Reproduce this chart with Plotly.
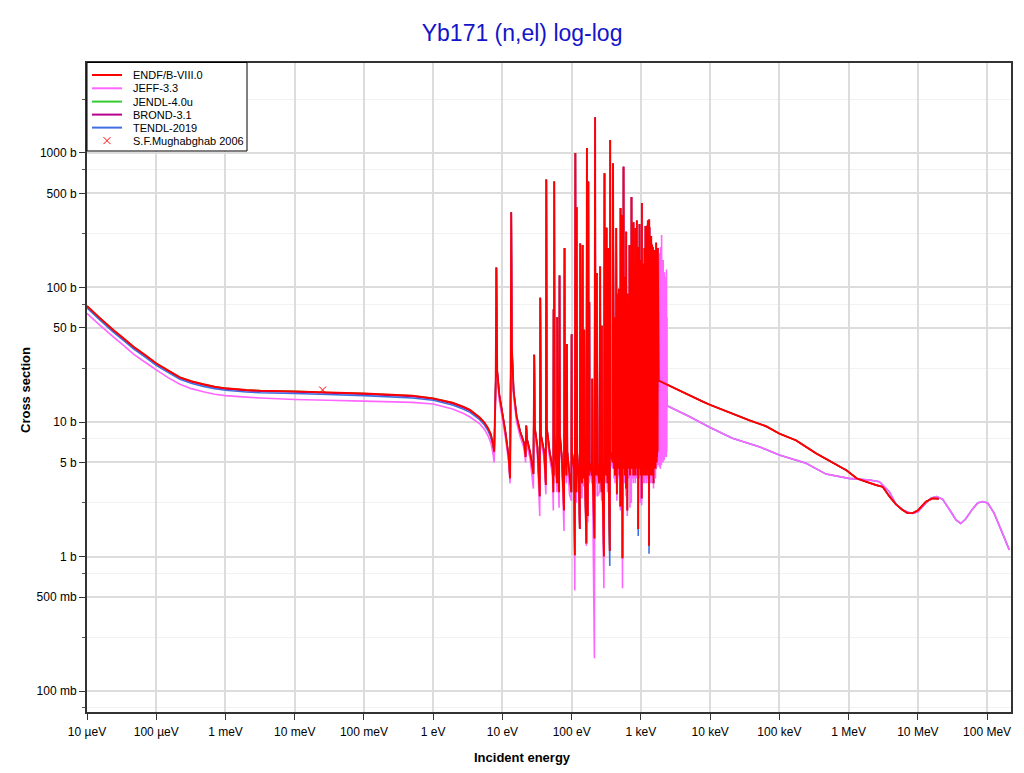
import plotly.graph_objects as go

# ---------------- data ----------------
# smooth low-energy part (eV, barns)
low_e = [1e-5, 1.5e-5, 2.4e-5, 3.4e-5, 4.7e-5, 7e-5, 1e-4, 1.5e-4, 2.2e-4, 3.2e-4,
         4.8e-4, 7e-4, 1e-3, 2e-3, 3.2e-3, 1e-2, 3e-2, 0.1, 0.5, 1.0,
         1.9, 2.7, 3.4, 4.7, 5.5, 6.2, 6.8, 7.3, 7.6]
endf_low = [72.8, 60, 48.3, 41.7, 36.3, 31.3, 27.3, 24.1, 21.5, 20.1,
            19.1, 18.3, 17.8, 17.3, 17.1, 16.9, 16.6, 16.3, 15.7, 15.0,
            13.9, 13.0, 12.3, 10.8, 9.9, 9.0, 8.1, 6.9, 6.0]
jeff_low = [64.3, 53, 43, 37, 32, 27.7, 24.4, 21.3, 19.1, 17.7,
            16.8, 16.1, 15.7, 15.3, 15.1, 14.7, 14.5, 14.3, 14.0, 13.6,
            12.5, 11.6, 10.9, 9.7, 8.8, 7.9, 7.0, 5.85, 5.0]
tendl_low = [70.5, 58, 46.6, 40.2, 35.0, 30.2, 26.4, 23.3, 20.8, 19.4,
             18.4, 17.7, 17.2, 16.7, 16.5, 16.3, 16.0, 15.7, 15.1, 14.5,
             13.4, 12.5, 11.8, 10.4, 9.5, 8.6, 7.7, 6.5, 5.6]
brond_low = [72.0, 59.4, 47.8, 41.3, 35.9, 31.0, 27.0, 23.9, 21.3, 19.9,
             18.9, 18.1, 17.6, 17.1, 16.9, 16.7, 16.4, 16.1, 15.5, 14.8,
             13.7, 12.8, 12.1, 10.6, 9.7, 8.8, 7.9, 6.7, 5.8]

# resolved resonances, sparse part (8 eV - 364 eV): vertices
sp_e = [8.0, 8.17, 8.4, 9.0, 10.0, 11.0, 12.3, 12.9, 13.2, 13.4,
        13.7, 14.5, 16, 18, 20.5, 21.6, 22.1, 22.6, 25, 28.0,
        28.8, 29.4, 32, 34.6, 35.2, 36.0, 40, 42.4, 43.0, 43.8,
        48, 53, 54.3, 54.8, 55.3, 56.0, 56.7, 60, 61.3, 61.8,
        62.5, 65.8, 66.8, 67.6, 72, 77.5, 78.9, 80, 84, 85.3,
        86.5, 93, 99.0, 99.8, 101, 108, 111, 113, 115, 117,
        118, 120, 127, 131, 133, 135, 141, 144, 146, 150,
        152, 154, 163, 166, 168, 171, 174, 176, 178, 180,
        182, 196, 198, 200, 213, 218, 221, 228, 231, 234,
        250, 258, 261, 271, 273, 275, 292, 298, 301, 312,
        319, 322, 330, 337, 340, 355, 360, 364]
sp_endf = [20, 141, 24, 16, 11.5, 8.5, 5.5, 3.8, 25, 363,
           35, 17, 11, 8.5, 7.0, 5.5, 9.4, 7.5, 6.0, 4.1,
           31.6, 9.0, 6.5, 2.8, 84, 8.0, 6.0, 3.4, 634, 9.0,
           6.0, 4.5, 3.0, 69, 4.0, 614, 8.0, 4.5, 3.5, 60,
           7.0, 3.0, 123, 8.0, 5.5, 2.2, 197, 7.0, 4.0, 38,
           6.0, 4.0, 3.0, 45, 6.0, 4.5, 1.02, 1000, 6.0, 3.0,
           395, 6.0, 3.5, 1.6, 212, 6.0, 3.5, 207, 5.0, 3.8,
           48.6, 5.0, 1.25, 1089, 5.0, 2.0, 614, 5.0, 4.0, 78,
           5.0, 4.0, 21, 4.5, 1.36, 1842, 6.0, 4.0, 128, 5.0,
           3.5, 143, 5.0, 3.0, 52, 5.0, 1.0, 706, 6.0, 4.0,
           278, 5.0, 3.5, 197, 5.0, 1.1, 1250, 6.0]
sp_jeff = [18, 135, 22, 14.5, 10.5, 7.8, 5.0, 3.5, 22, 350,
           32, 15.5, 10, 7.8, 6.4, 5.0, 9.0, 6.8, 5.4, 3.2,
           30, 8.2, 5.8, 2.0, 80, 7.2, 5.4, 2.9, 620, 8.0,
           5.4, 4.0, 2.2, 65, 3.5, 600, 7.2, 4.0, 3.0, 57,
           6.3, 2.3, 118, 7.0, 5.0, 1.55, 190, 6.3, 3.5, 36,
           5.4, 2.9, 2.6, 43, 5.4, 4.0, 0.56, 980, 5.4, 2.5,
           380, 5.4, 3.0, 1.6, 205, 5.4, 2.7, 200, 4.5, 3.3,
           46, 4.5, 1.2, 1050, 4.5, 1.8, 600, 4.5, 3.5, 75,
           4.5, 3.5, 20, 4.0, 0.175, 1800, 5.4, 3.5, 122, 2.8,
           3.0, 138, 4.5, 2.6, 50, 4.5, 0.58, 690, 5.4, 3.5,
           270, 4.5, 3.0, 190, 4.5, 2.4, 1200, 5.4]

# dense part (395 eV - 1.75 keV): resonance energies, peak heights, minima
dn_e = [395, 412, 425, 440, 452, 465, 481, 495, 508, 520,
        531, 545, 561, 575, 590, 600, 613, 625, 640, 655,
        668, 684, 700, 715, 731, 745, 760, 781, 795, 810,
        835, 850, 873, 890, 905, 920, 938, 955, 975, 995,
        1015, 1032, 1050, 1070, 1090, 1110, 1128, 1145, 1164, 1185,
        1205, 1219, 1240, 1258, 1280, 1300, 1318, 1331, 1350, 1375,
        1395, 1409, 1430, 1452, 1470, 1489, 1510, 1530, 1550, 1570,
        1590, 1610, 1635, 1660, 1685, 1700, 1721, 1740, 1754]
dn_peak = [840, 60, 30, 277, 90, 40, 98, 50, 390, 70,
           346, 45, 790, 80, 60, 120, 260, 50, 90, 70,
           70, 207, 60, 90, 470, 70, 120, 306, 80, 150,
           277, 90, 315, 100, 200, 80, 180, 297, 100, 160,
           90, 425, 120, 90, 150, 100, 197, 120, 287, 90,
           140, 288, 110, 315, 100, 150, 320, 280, 120, 90,
           150, 241, 120, 208, 100, 200, 100, 130, 90, 190,
           100, 182, 120, 215, 90, 140, 143, 100, 197]
dn_dip_endf = [5.0, 4.5, 4.0, 4.5, 2.9, 4.5, 5.0, 4.0, 2.35, 4.5,
               5.0, 0.97, 4.5, 5.0, 4.0, 5.0, 3.2, 4.5, 2.2, 4.5,
               5.0, 4.5, 4.0, 5.0, 4.5, 4.5, 5.0, 4.0, 4.5, 5.0,
               4.0, 4.5, 5.0, 4.5, 4.0, 1.6, 4.5, 4.5, 5.0, 4.0,
               4.5, 2.7, 5.0, 4.5, 4.0, 5.0, 4.5, 4.0, 4.5, 5.0,
               4.5, 4.0, 4.5, 5.0, 4.5, 4.0, 1.2, 4.5, 5.0, 4.5,
               4.0, 4.5, 5.0, 4.5, 4.0, 4.5, 5.0, 3.5, 4.5, 5.0,
               4.5, 5.0, 4.5, 5.0, 5.5, 5.0, 5.5, 6.0, 6.0]
dn_dip_jeff = [4.5, 3.8, 3.5, 3.8, 2.6, 3.8, 4.2, 3.5, 2.2, 3.8,
               4.2, 0.58, 3.8, 4.2, 3.5, 4.2, 2.8, 3.8, 2.0, 3.8,
               4.2, 3.8, 2.3, 4.2, 2.5, 3.8, 4.2, 3.5, 3.8, 4.2,
               3.5, 3.8, 4.2, 3.8, 3.5, 2.4, 3.8, 3.8, 4.2, 2.5,
               3.8, 2.4, 4.2, 3.8, 3.5, 4.2, 3.8, 3.5, 3.8, 4.2,
               3.8, 3.5, 3.8, 4.2, 3.8, 3.5, 2.5, 4.2, 4.2, 3.8,
               3.5, 3.8, 4.2, 3.8, 3.5, 3.8, 4.2, 3.2, 3.8, 4.2,
               3.8, 4.2, 3.8, 4.5, 4.8, 4.6, 4.8, 5.0, 5.2]
# TENDL minima that go below the ENDF ones (energy -> barns)
tendl_deeper = {355: 0.85, 920: 1.42, 1318: 1.05}

# JEFF-3.3 resonances continuing above the ENDF range
jx_e = [1770, 1800, 1830, 1860, 1890, 1920, 1950, 1990, 2020, 2060,
        2100, 2140, 2180, 2220, 2260, 2300, 2340, 2380]
jx_peak = [150, 120, 180, 100, 160, 200, 120, 246, 140, 110,
           160, 90, 130, 100, 120, 80, 136, 60]
jx_dip = [5.0, 4.8, 5.0, 4.6, 5.0, 4.5, 5.0, 4.8, 5.0, 5.5,
          5.0, 5.5, 5.2, 5.8, 5.5, 6.0, 5.5, 6.0]

# smooth high-energy part
hi_e_endf = [1810, 7800, 10000, 36900, 64000, 1e5, 1.74e5, 3.39e5, 8.22e5, 9.16e5,
             1.31e6, 1.78e6, 2.47e6, 3.1e6, 3.9e6, 4.8e6, 6.0e6, 7.1e6, 8.4e6, 1.0e7,
             1.3e7, 1.63e7, 2.0e7]
hi_endf = [20.3, 14.2, 13.4, 10.3, 9.3, 8.2, 7.3, 5.85, 4.53, 4.4,
           3.81, 3.6, 3.4, 3.3, 2.79, 2.45, 2.22, 2.1, 2.1, 2.2,
           2.55, 2.71, 2.69]
hi_e_jeff = [2390, 5000, 10000, 21000, 51000, 1e5, 2.43e5, 4.72e5, 1e6, 2.0e6,
             2.78e6, 3.87e6, 4.8e6, 6.0e6, 7.1e6, 8.4e6, 1.0e7, 1.3e7, 1.55e7, 1.86e7,
             2.27e7, 3.0e7, 3.55e7, 4.16e7, 4.9e7, 6.1e7, 7.3e7, 8.6e7, 1.02e8, 1.26e8,
             1.58e8, 2.09e8]
hi_jeff = [13.2, 11.0, 9.1, 7.56, 6.55, 5.68, 4.93, 4.1, 3.81, 3.7,
           3.6, 3.03, 2.45, 2.22, 2.14, 2.09, 2.15, 2.49, 2.71, 2.79,
           2.67, 2.15, 1.87, 1.76, 1.9, 2.24, 2.5, 2.56, 2.5, 2.1,
           1.59, 1.12]

# thermal point
mugh_e = [0.0253]
mugh_xs = [17.3]

# axis ticks
x_tickvals = [1e-5, 1e-4, 1e-3, 1e-2, 1e-1, 1, 10, 100, 1e3, 1e4, 1e5, 1e6, 1e7, 1e8]
x_ticktext = ["10 µeV", "100 µeV", "1 meV", "10 meV", "100 meV", "1 eV", "10 eV",
              "100 eV", "1 keV", "10 keV", "100 keV", "1 MeV", "10 MeV", "100 MeV"]
y_tickvals = [0.1, 0.5, 1, 5, 10, 50, 100, 500, 1000]
y_ticktext = ["100 mb", "500 mb", "1 b", "5 b", "10 b", "50 b", "100 b", "500 b", "1000 b"]
y_minorvals = [0.075, 0.25, 0.75, 2.5, 7.5, 25, 75, 250, 750, 2500]

legend_names = ["ENDF/B-VIII.0", "JEFF-3.3", "JENDL-4.0u", "BROND-3.1", "TENDL-2019",
                "S.F.Mughabghab 2006"]

# ---------------- build series ----------------
def zigzag(energies, peaks, dips):
    xs, ys = [], []
    for e, p, d in zip(energies, peaks, dips):
        xs += [e * 0.994, e]
        ys += [d, p]
    return xs, ys

dn_x_endf, dn_y_endf = zigzag(dn_e, dn_peak, dn_dip_endf)
dn_x_jeff, dn_y_jeff = zigzag(dn_e, dn_peak, dn_dip_jeff)
tendl_dips = [tendl_deeper.get(e, d) for e, d in zip(dn_e, dn_dip_endf)]
dn_x_tendl, dn_y_tendl = zigzag(dn_e, dn_peak, tendl_dips)
jx_x, jx_y = zigzag(jx_e, jx_peak, jx_dip)
sp_tendl = [tendl_deeper.get(e, v) for e, v in zip(sp_e, sp_endf)]

series = {
    "ENDF/B-VIII.0": (low_e + sp_e + dn_x_endf + hi_e_endf,
                      endf_low + sp_endf + dn_y_endf + hi_endf),
    "JEFF-3.3": (low_e + sp_e + dn_x_jeff + jx_x + hi_e_jeff,
                 jeff_low + sp_jeff + dn_y_jeff + jx_y + hi_jeff),
    "JENDL-4.0u": (low_e + sp_e + dn_x_endf + hi_e_endf,
                   endf_low + sp_endf + dn_y_endf + hi_endf),
    "BROND-3.1": (low_e + sp_e + dn_x_endf + hi_e_endf,
                  brond_low + sp_endf + dn_y_endf + hi_endf),
    "TENDL-2019": (low_e + sp_e + dn_x_tendl + hi_e_jeff,
                   tendl_low + sp_tendl + dn_y_tendl + hi_jeff),
}
colors = {
    "ENDF/B-VIII.0": "#ff0000",
    "JEFF-3.3": "#ff66ff",
    "JENDL-4.0u": "#33cc33",
    "BROND-3.1": "#b8008f",
    "TENDL-2019": "#3f6fe0",
}
widths = {"ENDF/B-VIII.0": 1.9, "JEFF-3.3": 1.6, "JENDL-4.0u": 1.5,
          "BROND-3.1": 1.5, "TENDL-2019": 1.6}
draw_order = ["JENDL-4.0u", "BROND-3.1", "TENDL-2019", "JEFF-3.3", "ENDF/B-VIII.0"]

fig = go.Figure()
for name in draw_order:
    xs, ys = series[name]
    fig.add_trace(go.Scatter(
        x=xs, y=ys, mode="lines", name=name, showlegend=False,
        line=dict(color=colors[name], width=widths[name], simplify=False),
        hoverinfo="skip"))
fig.add_trace(go.Scatter(
    x=mugh_e, y=mugh_xs, mode="markers", name=legend_names[5], showlegend=False,
    marker=dict(symbol="x-thin", size=7, color="#ff0000",
                line=dict(color="#ff0000", width=1))))

# ---------------- layout geometry (figure pixels) ----------------
W, H = 1008, 757
ML, MR, MT, MB = 79, 5, 55, 53
PW, PH = W - ML - MR, H - MT - MB

def px(xpix):  # figure pixel -> paper x
    return (xpix - ML) / PW

def py(ypix):  # figure pixel -> paper y
    return (H - MB - ypix) / PH

# custom legend (compact, as in the reference)
shapes = [dict(type="rect", xref="paper", yref="paper",
               x0=px(79), x1=px(239), y0=py(143), y1=py(54.5),
               line=dict(color="#000000", width=1), fillcolor="white", layer="above")]
annotations = []
row_y = [67, 80.3, 93.6, 106.6, 119.6, 132.6]
for i, name in enumerate(legend_names):
    yy = py(row_y[i])
    if i < 5:
        shapes.append(dict(type="line", xref="paper", yref="paper",
                           x0=px(84), x1=px(114), y0=yy, y1=yy,
                           line=dict(color=colors[name], width=2), layer="above"))
    else:
        for s in (1, -1):
            shapes.append(dict(type="line", xref="paper", yref="paper",
                               x0=px(95.5), x1=px(102.5), y0=py(row_y[i] - 3.5 * s),
                               y1=py(row_y[i] + 3.5 * s),
                               line=dict(color="#ff0000", width=1), layer="above"))
    annotations.append(dict(text=name, xref="paper", yref="paper", x=px(123), y=yy,
                            xanchor="left", yanchor="middle", showarrow=False,
                            font=dict(size=11, color="#000000")))

# axis titles as free text at the reference positions
annotations.append(dict(text="<b>Incident energy</b>", xref="paper", yref="paper",
                        x=px(514), y=py(749), xanchor="center", yanchor="middle",
                        showarrow=False, font=dict(size=13, color="#000000")))
annotations.append(dict(text="<b>Cross section</b>", xref="paper", yref="paper",
                        x=px(17), y=py(382), xanchor="center", yanchor="middle",
                        textangle=-90, showarrow=False,
                        font=dict(size=13, color="#000000")))

FONT = "Liberation Sans, Arial, sans-serif"
xr = [-5, 8.345]
yr = [-1.156, 3.669]

fig.update_layout(
    width=W, height=H,
    margin=dict(l=ML, r=MR, t=MT, b=MB, autoexpand=False),
    paper_bgcolor="white", plot_bgcolor="white",
    font=dict(family=FONT, size=12, color="#000000"),
    title=dict(text="Yb171 (n,el) log-log", x=0.51, xanchor="center",
               y=1 - 25 / H, yanchor="middle", yref="container",
               font=dict(family=FONT, size=23, color="#1414c8")),
    showlegend=False,
    shapes=shapes,
    annotations=annotations,
    xaxis=dict(type="log", range=xr, tickmode="array", tickvals=x_tickvals,
               ticktext=x_ticktext, ticks="outside", ticklen=6, tickcolor="#333",
               ticklabelstandoff=2,
               showgrid=True, gridcolor="#dcdcdc", gridwidth=1.5,
               showline=True, linecolor="#333", linewidth=2, mirror=True,
               zeroline=False, automargin=False),
    yaxis=dict(type="log", range=yr, tickmode="array", tickvals=y_tickvals,
               ticktext=y_ticktext, ticks="outside", ticklen=6, tickcolor="#333",
               showgrid=True, gridcolor="#dcdcdc", gridwidth=1.5,
               minor=dict(tickmode="array", tickvals=y_minorvals, ticks="outside",
                          ticklen=3, tickcolor="#555", showgrid=True,
                          gridcolor="#f2f2f2", gridwidth=1),
               showline=True, linecolor="#333", linewidth=2, mirror=True,
               zeroline=False, automargin=False),
    xaxis2=dict(type="log", range=xr, overlaying="x", side="top", anchor="y",
                tickmode="array", tickvals=x_tickvals, ticks="inside", ticklen=4,
                tickcolor="#333", showticklabels=False, showgrid=False,
                showline=False, zeroline=False),
    yaxis2=dict(type="log", range=yr, overlaying="y", side="right", anchor="x",
                tickmode="array", tickvals=y_tickvals + y_minorvals, ticks="inside",
                ticklen=5, tickcolor="#333", showticklabels=False, showgrid=False,
                showline=False, zeroline=False),
)

fig.write_html("out.html")
